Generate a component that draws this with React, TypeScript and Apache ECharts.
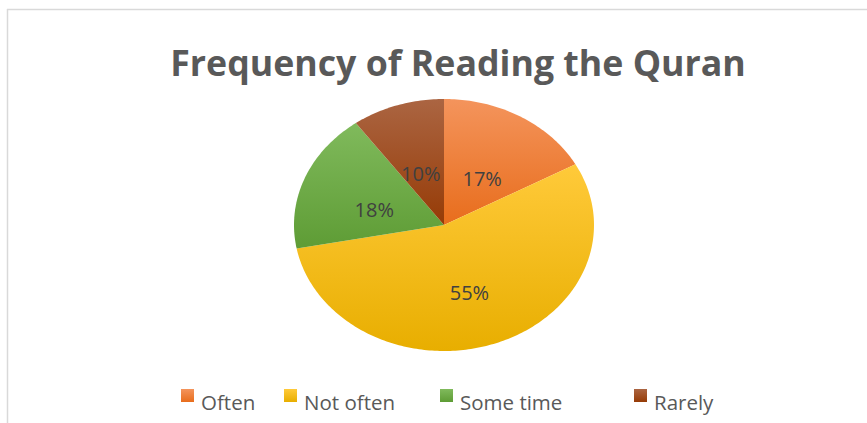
import React, { useEffect, useRef } from "react";
import * as echarts from "echarts";

const TITLE = "Frequency of Reading the Quran";
const CATEGORIES = ["Often", "Not often", "Some time", "Rarely"];
const VALUES = [17, 55, 18, 10];
const COLORS_TOP = ["#F4945C", "#FFCA3A", "#80BA5C", "#AB6542"];
const COLORS_BOTTOM = ["#E86D1C", "#E8AE00", "#5E9C35", "#963B06"];

// layout constants
const CX = 444;
const CY = 225;
const RX = 150;
const RY = 126;
const LEGEND_X = [181, 284, 440, 634];
const LEGEND_Y = 389;

export default function App() {
  const ref = useRef<HTMLDivElement>(null);
  useEffect(() => {
    if (!ref.current) return;
    const chart = echarts.init(ref.current, null, { renderer: "svg" });
    const total = VALUES.reduce((a, b) => a + b, 0);

    const legendGraphics: any[] = [];
    CATEGORIES.forEach((c, i) => {
      legendGraphics.push({
        type: "rect",
        shape: { x: LEGEND_X[i], y: LEGEND_Y, width: 13, height: 13 },
        style: {
          fill: new echarts.graphic.LinearGradient(0, 0, 0, 1, [
            { offset: 0, color: COLORS_TOP[i] },
            { offset: 1, color: COLORS_BOTTOM[i] },
          ]),
        },
      });
      legendGraphics.push({
        type: "text",
        x: LEGEND_X[i] + 20,
        y: 402,
        style: {
          text: c,
          fontFamily: "Open Sans",
          fontSize: 20.5,
          fill: "#595959",
          verticalAlign: "middle",
          align: "left",
        },
      });
    });

    chart.setOption({
      animation: false,
      backgroundColor: "#ffffff",
      graphic: [
        {
          type: "line",
          shape: { x1: 7, y1: 9.5, x2: 867, y2: 9.5 },
          style: { stroke: "#D9D9D9", lineWidth: 1.5 },
        },
        {
          type: "line",
          shape: { x1: 7.5, y1: 9, x2: 7.5, y2: 423 },
          style: { stroke: "#D9D9D9", lineWidth: 1.5 },
        },
        {
          type: "text",
          x: 458,
          y: 62,
          style: {
            text: TITLE,
            fontFamily: "Open Sans",
            fontWeight: "bold",
            fontSize: 35.7,
            fill: "#595959",
            align: "center",
            verticalAlign: "middle",
          },
        },
        ...legendGraphics,
      ],
      series: [
        {
          type: "custom",
          coordinateSystem: "none",
          data: VALUES.map((v, i) => ({ name: CATEGORIES[i], value: v })),
          renderItem: (params: any) => {
            const i = params.dataIndex;
            let start = 0;
            for (let j = 0; j < i; j++) start += VALUES[j];
            const a0 = (start / total) * Math.PI * 2;
            const a1 = ((start + VALUES[i]) / total) * Math.PI * 2;
            const pts: number[][] = [[CX, CY]];
            const n = Math.max(2, Math.ceil(((a1 - a0) * 180) / Math.PI));
            for (let k = 0; k <= n; k++) {
              const a = a0 + ((a1 - a0) * k) / n;
              pts.push([CX + RX * Math.sin(a), CY - RY * Math.cos(a)]);
            }
            const mid = (a0 + a1) / 2;
            const f = 0.5;
            const lx = CX + RX * f * Math.sin(mid);
            const ly = CY - RY * f * Math.cos(mid) + 8;
            return {
              type: "group",
              children: [
                {
                  type: "polygon",
                  shape: { points: pts },
                  style: {
                    fill: new echarts.graphic.LinearGradient(0, 0, 0, 1, [
                      { offset: 0, color: COLORS_TOP[i] },
                      { offset: 1, color: COLORS_BOTTOM[i] },
                    ]),
                  },
                },
                {
                  type: "text",
                  x: lx,
                  y: ly,
                  z2: 10,
                  style: {
                    text: Math.round((VALUES[i] / total) * 100) + "%",
                    fontFamily: "Open Sans",
                    fontSize: 20,
                    fill: "#404040",
                    align: "center",
                    verticalAlign: "middle",
                  },
                },
              ],
            };
          },
        },
      ],
    });
    return () => chart.dispose();
  }, []);
  return (
    <div
      ref={ref}
      style={{ position: "absolute", left: 0, top: 0, width: 867, height: 423 }}
    />
  );
}
